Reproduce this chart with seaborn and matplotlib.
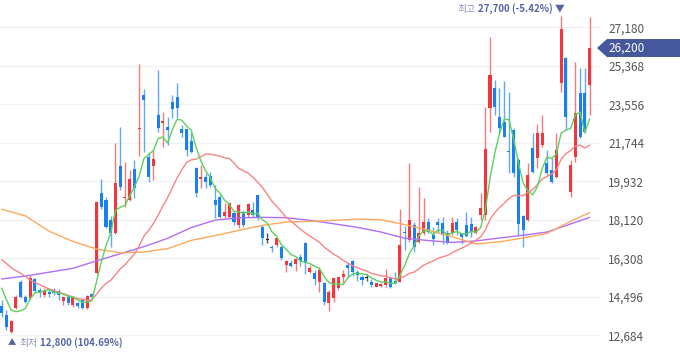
import numpy as np
import pandas as pd
import matplotlib
matplotlib.use("Agg")
import matplotlib.pyplot as plt
import seaborn as sns
from matplotlib.patches import Polygon

# ---------------- data ----------------
opens = [14060, 13640, 12850, 13950, 15200, 14500, 14420, 15310, 14810, 14580,
         14730, 14810, 14780, 14310, 14500, 14110, 14220, 14370, 13950, 14610,
         15600, 19360, 19050, 18110, 17480, 20650, 19130, 19050, 20490, 22370,
         23990, 21090, 20650, 23050, 22690, 22470, 23680, 23880, 22390, 22370,
         21840, 20540, 20020, 20150, 20180, 19050, 19200, 18310, 18260, 18420,
         17870, 18500, 18340, 18580, 19280, 17790, 17170, 16850, 16930, 16850,
         15990, 16070, 16040, 16350, 17040, 15680, 15630, 15200, 15130, 14190,
         14420, 14890, 15440, 15990, 16190, 15680, 15440, 15360, 15200, 14970,
         15000, 15050, 15360, 15250, 15200, 17560, 17170, 17870, 17090, 17480,
         18030, 17400, 18030, 17950, 17480, 17480, 18030, 17480, 17870, 17920,
         17480, 18340, 18340, 23360, 24300, 22970, 22730, 21370, 22340, 20930,
         18300, 18110, 21480, 21010, 21640, 20770, 20460, 20150, 24570, 25720,
         19440, 21090, 24100, 24100, 24460]
highs = [14340, 13870, 13400, 14580, 15280, 14580, 15520, 15360, 14890, 14890,
         14840, 14890, 14840, 14500, 14580, 14530, 14260, 14420, 14580, 14660,
         19020, 20020, 19200, 18300, 21710, 22470, 20850, 20460, 20930, 25450,
         24260, 21320, 21400, 25170, 23200, 22970, 23990, 24570, 22580, 22400,
         22260, 20620, 20700, 20300, 20380, 19750, 19280, 18890, 18900, 18500,
         18860, 18580, 18890, 18970, 19300, 17870, 17480, 16930, 17250, 16860,
         16220, 16220, 16300, 16510, 17060, 15990, 15750, 15910, 15200, 14810,
         15380, 15440, 15750, 16070, 16220, 15750, 15520, 15570, 15310, 15160,
         15130, 15790, 15470, 15680, 18610, 17830, 20800, 18030, 19680, 19130,
         18190, 17790, 18190, 18260, 17640, 18260, 18190, 17510, 18500, 18260,
         17830, 19360, 23410, 26700, 24700, 24300, 24660, 24150, 22420, 21010,
         18340, 20770, 22220, 22620, 23050, 21400, 21010, 22190, 27700, 25790,
         20930, 25560, 25240, 25240, 27650]
lows = [13560, 12930, 12800, 13900, 14420, 14190, 14340, 14730, 14500, 14500,
        14500, 14580, 14340, 14110, 14110, 14030, 13950, 13900, 13900, 14420,
        15570, 18610, 17710, 16820, 17450, 19520, 18730, 19000, 19130, 21120,
        21320, 19910, 19990, 22260, 21560, 21640, 22890, 22890, 22030, 21120,
        21240, 19200, 19600, 19600, 19680, 18190, 18190, 18190, 18190, 17870,
        17710, 17790, 18260, 18260, 18110, 16930, 17010, 16620, 16850, 16220,
        15680, 15910, 15720, 15940, 15570, 15630, 15050, 14730, 14110, 13840,
        14260, 14810, 15130, 15440, 15470, 15250, 15050, 15250, 14970, 14940,
        14940, 14970, 14890, 15100, 15180, 16700, 17090, 16620, 17040, 17400,
        17480, 16930, 17480, 16980, 16980, 17400, 17400, 16980, 17320, 17320,
        17460, 18110, 18110, 22260, 23050, 22260, 22000, 20300, 20150, 17400,
        16820, 18080, 20300, 20540, 21560, 20220, 19830, 20070, 24150, 22340,
        19170, 20850, 21950, 22190, 23050]
closes = [13710, 13090, 13370, 14500, 14500, 14260, 15360, 14780, 14660, 14780,
          14620, 14690, 14580, 14470, 14190, 14470, 14060, 13950, 14530, 14500,
          18970, 18730, 17790, 17480, 19830, 19680, 19200, 20020, 19600, 22420,
          23750, 20150, 20960, 22420, 22780, 22340, 23320, 23360, 22220, 21400,
          21320, 19360, 20150, 19910, 19750, 18810, 18260, 18500, 18890, 18030,
          18810, 17870, 18860, 18340, 18260, 17240, 17170, 16770, 17240, 16300,
          16180, 15940, 16260, 16190, 16070, 15830, 15310, 15750, 14260, 14730,
          15360, 15410, 15570, 15830, 15680, 15520, 15280, 15360, 15050, 15130,
          15090, 15360, 14970, 15130, 16930, 17480, 18110, 16820, 17480, 18030,
          17560, 17200, 17870, 17400, 17010, 17950, 17640, 17320, 17350, 17560,
          17790, 18660, 21430, 24930, 23440, 22420, 22030, 21320, 20300, 17920,
          17640, 20220, 20380, 22190, 22220, 20330, 19910, 21400, 27080, 22970,
          20700, 23130, 22030, 22260, 26200]

# moving averages: values before the first full window
ma5_head = [14900, 14350, 13870, 13790]
ma20_head = [16240, 16060, 15860, 15720, 15600, 15450, 15280, 15170, 15060, 14960,
             14860, 14790, 14710, 14640, 14560, 14490, 14410, 14370, 14330]
ma_long_idx = [0, 5, 10, 15, 20, 25, 30, 35, 40, 45, 50, 55, 60, 65, 70, 75, 80,
               85, 90, 95, 100, 105, 110, 115, 120, 124]
ma60_vals = [18610, 18300, 17580, 17100, 16740, 16560, 16600, 16760, 17150, 17370,
             17620, 17850, 18010, 18045, 18090, 18150, 18120, 17890, 17630, 17320,
             16980, 17080, 17260, 17470, 18050, 18450]
ma120_vals = [15330, 15470, 15650, 15830, 16180, 16520, 16850, 17245, 17750, 18100,
              18210, 18230, 18215, 18090, 17930, 17760, 17540, 17250, 17140, 17050,
              17120, 17260, 17390, 17540, 17920, 18230]

y_ticks = [12684, 14496, 16308, 18120, 19932, 21744, 23556, 25368, 27180]
hi_value, hi_index, hi_pct = 27700, 118, "-5.42%"
lo_value, lo_index, lo_pct = 12800, 2, "104.69%"
last_price = 26200

# ---------------- styling ----------------
sns.set_theme(style="white")
plt.rcParams["font.family"] = ["Noto Sans CJK KR", "DejaVu Sans"]

RED = "#f1373d"
BLUE = "#1a7ff0"
RED_W = "#f47a7e"
BLUE_W = "#62a8f4"

n = len(closes)
df = pd.DataFrame({"idx": np.arange(n), "open": opens, "high": highs,
                   "low": lows, "close": closes})
ma5 = df["close"].rolling(5).mean().to_numpy()
ma5[:4] = ma5_head
ma20 = df["close"].rolling(20).mean().to_numpy()
ma20[:19] = ma20_head
df["ma5"] = ma5
df["ma20"] = ma20
long_df = pd.DataFrame({"idx": ma_long_idx, "ma60": ma60_vals, "ma120": ma120_vals})

W, H = 680, 358
fig = plt.figure(figsize=(W / 100, H / 100), dpi=100)
ax = fig.add_axes([0, 0, 600 / W, 1])
ax.set_xlim(-0.36, 126.2)
ax.set_ylim(11612, 28460)

for v in y_ticks:
    ax.axhline(v, color="#f1f2f7", lw=1.0, zorder=0)

# candles
o = df["open"].to_numpy(); c = df["close"].to_numpy()
hi = df["high"].to_numpy(); lo = df["low"].to_numpy()
x = df["idx"].to_numpy()
col = np.where(c > o, RED, np.where(c < o, BLUE, "#222222"))
wcol = np.where(c > o, RED_W, np.where(c < o, BLUE_W, "#555555"))
ax.vlines(x, lo, hi, colors=wcol, lw=1.0, zorder=2)
body_lo = np.minimum(o, c)
body_h = np.maximum(np.abs(c - o), 45)
ax.bar(x, body_h, bottom=body_lo, width=0.64, color=col, linewidth=0, zorder=3)

# moving averages
sns.lineplot(data=long_df, x="idx", y="ma120", ax=ax, color="#b26ef7", lw=1.0, zorder=4)
sns.lineplot(data=long_df, x="idx", y="ma60", ax=ax, color="#ffa95c", lw=1.0, zorder=4)
sns.lineplot(data=df, x="idx", y="ma20", ax=ax, color="#f88484", lw=1.0, zorder=4)
sns.lineplot(data=df, x="idx", y="ma5", ax=ax, color="#5cd25c", lw=1.0, zorder=5)

# axes styling
for s in ax.spines.values():
    s.set_visible(False)
ax.set_xticks([])
ax.set_xlabel(""); ax.set_ylabel("")
ax.yaxis.tick_right()
ax.set_yticks(y_ticks)
ax.set_yticklabels([f"{v:,}" for v in y_ticks])
ax.tick_params(axis="y", length=0, pad=6, labelsize=8.5, labelcolor="#555555")
ax.grid(False)

# current price tag
fig.canvas.draw()
yd = ax.transData.transform((0, last_price))[1]
yf = yd / fig.bbox.height
hh = 9 / H
poly = Polygon([(597 / W, yf), (607 / W, yf + hh), (1.0, yf + hh), (1.0, yf - hh), (607 / W, yf - hh)],
               closed=True, transform=fig.transFigure, facecolor="#44589b", edgecolor="none",
               clip_on=False)
fig.patches.append(poly)
fig.text(627 / W, yf, f"{last_price:,}", color="white", fontsize=8.5, ha="center", va="center")

# high label
LAB_DARK = "#5566a3"
LAB_LIGHT = "#8c95b8"
t1 = ax.annotate(f"{hi_value:,} ({hi_pct}) ▼", xy=(hi_index, hi_value), xytext=(2.5, 1.5),
                 textcoords="offset points", ha="right", va="bottom", fontsize=7,
                 fontweight="bold", color=LAB_DARK, annotation_clip=False)
fig.canvas.draw()
bb = t1.get_window_extent()
fig.text((bb.x0 - 2) / W, (bb.y0 + bb.y1) / 2 / H, "최고", ha="right", va="center",
         fontsize=7, color=LAB_LIGHT)

# low label
t2 = ax.annotate("▲", xy=(lo_index, lo_value), xytext=(-2.5, -4), textcoords="offset points",
                 ha="left", va="top", fontsize=6, color=LAB_DARK, annotation_clip=False)
fig.canvas.draw()
bb2 = t2.get_window_extent()
ymid = (bb2.y0 + bb2.y1) / 2 / H
t3 = fig.text((bb2.x1 + 3) / W, ymid, "최저", ha="left", va="center", fontsize=7, color=LAB_LIGHT)
fig.canvas.draw()
bb3 = t3.get_window_extent()
fig.text((bb3.x1 + 3) / W, ymid, f"{lo_value:,} ({lo_pct})", ha="left", va="center",
         fontsize=7, fontweight="bold", color=LAB_DARK)

fig.savefig("out.png", dpi=100, facecolor="white")
